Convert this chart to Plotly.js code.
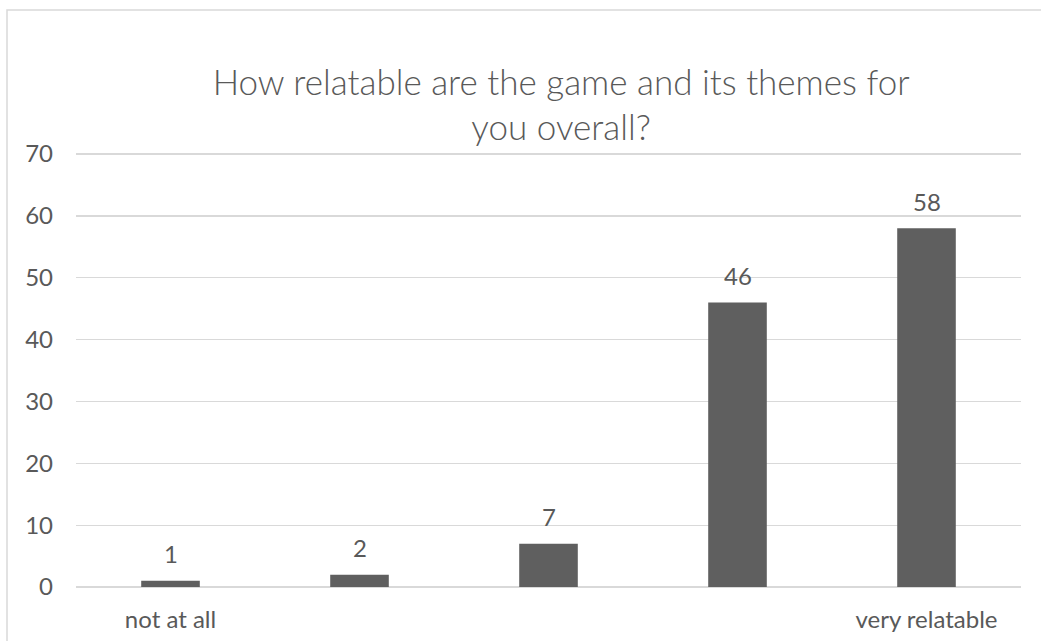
<!DOCTYPE html>
<html>
<head>
<meta charset="utf-8">
<script src="https://cdn.plot.ly/plotly-3.0.1.min.js"></script>
<style>
  html, body { margin: 0; padding: 0; background: #ffffff; }
  #chart { width: 1041px; height: 641px; }
</style>
</head>
<body>
<div id="chart"></div>
<script>
const categories = ["not at all", "2", "3", "4", "very relatable"];
const tickLabels = ["not at all", "", "", "", "very relatable"];
const counts = [1, 2, 7, 46, 58];
const yTicks = [0, 10, 20, 30, 40, 50, 60, 70];
const chartTitle = "How relatable are the game and its themes for<br>you overall?";

const textColor = "#595959";
const barColor = "#5f5f5f";
const gridColor = "#d9d9d9";

const trace = {
  type: "bar",
  x: categories,
  y: counts,
  marker: { color: barColor },
  hoverinfo: "none"
};

// category axis positions are indices 0..n-1
const labelAnnotations = counts.map((v, i) => ({
  x: i,
  y: v,
  xref: "x",
  yref: "y",
  text: String(v),
  showarrow: false,
  xanchor: "center",
  yanchor: "middle",
  yshift: 27,
  font: { family: "Lato", size: 24, color: textColor }
}));

const layout = {
  width: 1041,
  height: 641,
  margin: { l: 76, r: 20, t: 151, b: 54, pad: 0 },
  paper_bgcolor: "#ffffff",
  plot_bgcolor: "#ffffff",
  font: { family: "Lato", color: textColor },
  showlegend: false,
  bargap: 0.69,
  title: {
    text: chartTitle,
    font: { family: "Lato", size: 35, weight: 300, color: textColor },
    xref: "container",
    x: 0.539,
    xanchor: "center",
    yref: "container",
    y: 0.852,
    yanchor: "middle"
  },
  xaxis: {
    type: "category",
    tickmode: "array",
    tickvals: categories,
    ticktext: tickLabels,
    ticks: "",
    showgrid: false,
    zeroline: false,
    showline: false,
    tickfont: { family: "Lato", size: 24, color: textColor },
    ticklabelstandoff: 16
  },
  yaxis: {
    range: [0, 70.5],
    tickmode: "array",
    tickvals: yTicks,
    ticks: "",
    showgrid: true,
    gridcolor: gridColor,
    gridwidth: 1.3,
    zeroline: true,
    zerolinecolor: gridColor,
    zerolinewidth: 1.3,
    showline: false,
    tickfont: { family: "Lato", size: 24, color: textColor },
    ticklabelstandoff: 22
  },
  annotations: labelAnnotations,
  shapes: [{
    type: "rect",
    xref: "paper",
    yref: "paper",
    x0: (7 - 76) / 945,
    x1: (1060 - 76) / 945,
    y0: (587 - 660) / 436,
    y1: (587 - 10) / 436,
    line: { color: "#d9d9d9", width: 1.5 },
    fillcolor: "rgba(0,0,0,0)",
    layer: "below"
  }]
};

Plotly.newPlot("chart", [trace], layout, { displayModeBar: false, staticPlot: true });
</script>
</body>
</html>
